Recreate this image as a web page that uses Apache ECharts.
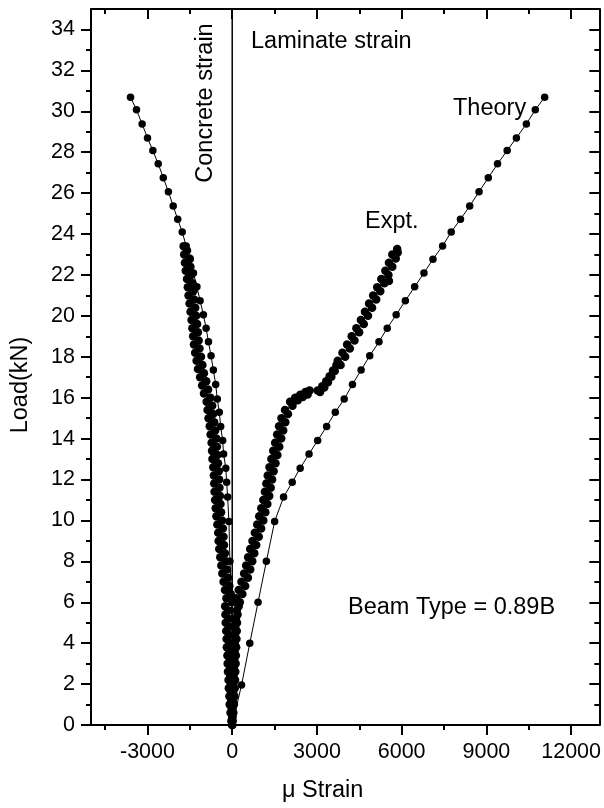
<!DOCTYPE html>
<html>
<head>
<meta charset="utf-8">
<script src="https://cdn.jsdelivr.net/npm/echarts@6/dist/echarts.min.js"></script>
<style>
html,body{margin:0;padding:0;background:#fff;}
#chart{width:604px;height:808px;}
</style>
</head>
<body>
<div id="chart"></div>
<script>
// ---- data ----
const xMajorTicks = [-3000, 0, 3000, 6000, 9000, 12000];
const xMinorTicks = [-4500, -1500, 1500, 4500, 7500, 10500];
const yMajorTicks = [0,2,4,6,8,10,12,14,16,18,20,22,24,26,28,30,32,34];
const yMinorTicks = [1,3,5,7,9,11,13,15,17,19,21,23,25,27,29,31,33];

const theoryLoad = [0,1.95,4.0,6.0,8.0,9.95,11.14,11.87,12.55,13.25,13.91,14.59,15.29,15.93,16.65,17.35,18.05,18.73,19.40,20.05,20.74,21.42,22.1,22.77,23.42,24.1,24.72,25.37,26.07,26.75,27.43,28.08,28.70,29.38,30.07,30.69];
const theoryLaminate = [0,330,623,915,1210,1502,1819,2125,2406,2720,3026,3343,3649,3966,4258,4564,4870,5197,5489,5806,6130,6460,6790,7108,7449,7755,8082,8410,8740,9068,9395,9736,10063,10415,10732,11063];
const theoryConcrete = [0,-5,-10,-21,-81,-116,-162,-197,-227,-305,-338,-408,-457,-528,-584,-668,-749,-841,-925,-1020,-1137,-1250,-1372,-1488,-1630,-1770,-1930,-2090,-2260,-2440,-2620,-2810,-3000,-3190,-3390,-3600];

const exptLaminateStrain = [0,20,0,40,10,60,20,80,30,90,40,100,50,110,60,120,70,130,80,140,90,150,100,160,110,170,130,190,160,230,
  270,135,361,230,460,328,556,422,638,494,710,565,781,637,852,718,940,802,1024,885,1101,957,1173,1030,1246,1102,1312,1158,1363,1208,
  1413,1258,1467,1320,1533,1387,1600,1453,1665,1520,1735,1590,1805,1660,1880,1745,1975,1870,2135,2050,
  2230,2320,2410,2500,2590,2670,2740,3026,3110,3190,3260,3330,3390,3450,3510,3570,3630,3690,
  3838,3737,4000,3903,4165,4068,4330,4232,4495,4397,4659,4556,4808,4701,4953,4846,5099,4991,5243,5135,5387,5549,5279,5531,5423,5669,5549,5790,5670,5860,5841];
const exptLaminateLoad = [0,0.2,0.4,0.6,0.8,1.0,1.2,1.4,1.6,1.8,2.0,2.2,2.4,2.6,2.8,3.0,3.2,3.4,3.6,3.8,4.0,4.2,4.4,4.6,4.8,5.0,5.2,5.4,5.6,5.8,
  6.0,6.2,6.4,6.6,6.8,7.0,7.2,7.4,7.6,7.8,8.0,8.2,8.4,8.6,8.8,9.0,9.2,9.4,9.6,9.8,10.0,10.2,10.4,10.6,10.8,11.0,11.2,11.4,11.6,11.8,
  12.0,12.2,12.4,12.6,12.8,13.0,13.2,13.4,13.6,13.8,14.0,14.2,14.4,14.6,14.8,15.0,15.2,15.4,15.6,15.8,
  16.0,15.88,16.14,16.03,16.28,16.16,16.35,16.35,16.28,16.56,16.5,16.8,16.75,17.05,17.02,17.33,17.3,17.6,
  17.6,17.8,18.0,18.2,18.4,18.6,18.8,19.0,19.2,19.4,19.6,19.8,20.0,20.2,20.4,20.6,20.8,21.0,21.2,21.4,21.6,21.7,21.8,22.0,22.2,22.4,22.6,22.8,23.0,23.1,23.27];

const exptConcreteStrain = [0,-30,10,-60,-20,-90,-30,-100,-40,-120,-50,-130,-60,-150,-70,-160,-80,-170,-90,-190,-100,-200,-110,-210,-120,-230,-130,-240,-140,-250,
  0,-205,-51,-255,-100,-305,-148,-350,-188,-386,-224,-422,-260,-458,-290,-480,-308,-495,-330,-526,-362,-560,-394,-585,-415,-605,-435,-624,-451,-637,
  -463,-650,-478,-668,-504,-699,-526,-714,-542,-730,-565,-765,-603,-795,-638,-838,-675,-872,-708,-905,
  -770,-1000,-855,-1065,-920,-1135,-1000,-1212,-1055,-1260,-1105,-1312,-1160,-1354,-1188,-1382,-1216,-1410,-1243,-1439,
  -1277,-1475,-1310,-1510,-1348,-1546,-1380,-1572,-1405,-1600,-1450,-1645,-1480,-1675,-1510,-1700,-1600,-1720];
const exptConcreteLoad = [0,0.2,0.4,0.6,0.8,1.0,1.2,1.4,1.6,1.8,2.0,2.2,2.4,2.6,2.8,3.0,3.2,3.4,3.6,3.8,4.0,4.2,4.4,4.6,4.8,5.0,5.2,5.4,5.6,5.8,
  6.0,6.2,6.4,6.6,6.8,7.0,7.2,7.4,7.6,7.8,8.0,8.2,8.4,8.6,8.8,9.0,9.2,9.4,9.6,9.8,10.0,10.2,10.4,10.6,10.8,11.0,11.2,11.4,11.6,11.8,
  12.0,12.2,12.4,12.6,12.8,13.0,13.2,13.4,13.6,13.8,14.0,14.2,14.4,14.6,14.8,15.0,15.2,15.4,15.6,15.8,
  16.0,16.2,16.4,16.6,16.8,17.0,17.2,17.4,17.6,17.8,18.0,18.2,18.4,18.6,18.8,19.0,19.2,19.4,19.6,19.8,
  20.0,20.2,20.4,20.6,20.8,21.0,21.2,21.4,21.6,21.8,22.0,22.2,22.4,22.6,22.8,23.0,23.2,23.4];

const zeroLineStrain = [0, 0];
const zeroLineLoad = [0, 35];

// ---- chart ----
const zip = (xs, ys) => xs.map((x, i) => [x, ys[i]]);
const FONT = '"Liberation Sans", Arial, Helvetica, sans-serif';
const black = '#000';

function xAx(pos, ticks, len, inside, showLine, labels) {
  return {
    type: 'value', position: pos, min: -5000, max: 13000,
    axisLine: { show: showLine, onZero: false, lineStyle: { color: black, width: 2 } },
    axisTick: { show: true, inside: inside, length: len, customValues: ticks, lineStyle: { color: black, width: 2 } },
    axisLabel: labels ? { show: true, customValues: ticks, formatter: v => String(v), color: black, fontSize: 21.5, fontFamily: FONT, margin: 16 } : { show: false },
    splitLine: { show: false }
  };
}
function yAx(pos, ticks, len, inside, showLine, labels) {
  return {
    type: 'value', position: pos, min: 0, max: 35,
    axisLine: { show: showLine, onZero: false, lineStyle: { color: black, width: 2 } },
    axisTick: { show: true, inside: inside, length: len, customValues: ticks, lineStyle: { color: black, width: 2 } },
    axisLabel: labels ? { show: true, customValues: ticks, formatter: v => String(v), color: black, fontSize: 21.5, fontFamily: FONT, margin: 16 } : { show: false },
    splitLine: { show: false }
  };
}

const xAxes = [
  xAx('bottom', xMajorTicks, 10, false, true, true),
  xAx('bottom', xMinorTicks, 5, false, false, false),
  xAx('top', xMajorTicks, 10, true, true, false),
  xAx('top', xMinorTicks, 5, true, false, false)
];
Object.assign(xAxes[0], {
  name: 'μ Strain', nameLocation: 'middle', nameGap: 54,
  nameTextStyle: { color: black, fontSize: 23.5, fontFamily: FONT, padding: [0, 45, 0, 0] }
});
const yAxes = [
  yAx('left', yMajorTicks, 10, false, true, true),
  yAx('left', yMinorTicks, 5, false, false, false),
  yAx('right', yMajorTicks, 10, true, true, false),
  yAx('right', yMinorTicks, 5, true, false, false)
];
Object.assign(yAxes[0], {
  name: 'Load(kN)', nameLocation: 'middle', nameGap: 58,
  nameTextStyle: { color: black, fontSize: 23.5, fontFamily: FONT, padding: [0, 36, 0, 0] }
});

function dotSeries(name, data, size) {
  return {
    name, type: 'line', data, xAxisIndex: 0, yAxisIndex: 0,
    symbol: 'circle', symbolSize: size, showSymbol: true,
    lineStyle: { color: black, width: 1 },
    itemStyle: { color: black },
    z: 3
  };
}

const txt = (text, x, y) => ({
  type: 'text', x, y,
  style: { text, fill: black, font: '23.5px ' + FONT, align: 'left', verticalAlign: 'middle' }
});

const option = {
  animation: false,
  backgroundColor: '#fff',
  grid: { left: 91, right: 2, top: 9, bottom: 80, containLabel: false },
  xAxis: xAxes,
  yAxis: yAxes,
  series: [
    dotSeries('Theory laminate', zip(theoryLaminate, theoryLoad), 7.5),
    dotSeries('Theory concrete', zip(theoryConcrete, theoryLoad), 7.5),
    dotSeries('Expt. laminate', zip(exptLaminateStrain, exptLaminateLoad), 8.5),
    dotSeries('Expt. concrete', zip(exptConcreteStrain, exptConcreteLoad), 8.5),
    {
      name: 'zero', type: 'line', data: zip(zeroLineStrain, zeroLineLoad),
      symbol: 'none', lineStyle: { color: black, width: 1.5 }, z: 2
    }
  ],
  graphic: [
    txt('Laminate strain', 251, 42),
    txt('Theory', 453, 108.5),
    txt('Expt.', 365, 221.5),
    txt('Beam Type = 0.89B', 348, 607.5),
    {
      type: 'text', x: 206, y: 103, rotation: Math.PI / 2,
      style: { text: 'Concrete strain', fill: black, font: '23.5px ' + FONT, align: 'center', verticalAlign: 'middle' }
    }
  ]
};

const chart = echarts.init(document.getElementById('chart'), null, { renderer: 'canvas' });
chart.setOption(option);
</script>
</body>
</html>
